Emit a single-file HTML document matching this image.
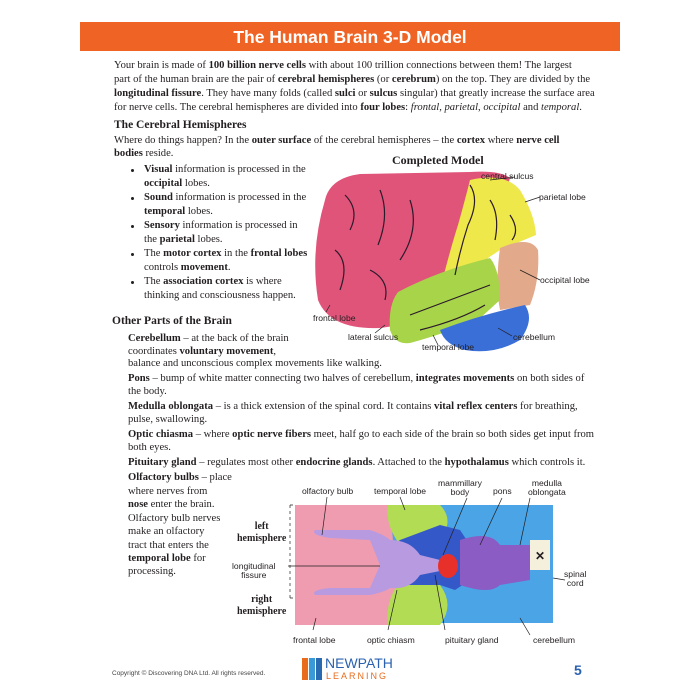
<!DOCTYPE html>
<html><head><meta charset="utf-8"><style>
body{margin:0;width:700px;height:700px;background:#fff;position:relative;overflow:hidden;font-family:"Liberation Serif",serif;color:#231f20}
.l{position:absolute;white-space:nowrap;font-size:10.6px;line-height:13px}
.h{font-size:11.5px;font-weight:bold}
.lb{position:absolute;white-space:nowrap;font-family:"Liberation Sans",sans-serif;font-size:8.6px;line-height:9px;color:#231f20}
b{font-weight:bold}
.d{position:absolute;width:3px;height:3px;background:#231f20;border-radius:50%}
</style></head><body>
<div style="position:absolute;left:80px;top:22px;width:540px;height:29px;background:#ef6424"></div>
<div style="position:absolute;left:80px;top:25px;width:540px;text-align:center;color:#fff;font-family:'Liberation Sans',sans-serif;font-weight:bold;font-size:17.5px;line-height:24px">The Human Brain 3-D Model</div>

<div class="l" style="left:114px;top:59px">Your brain is made of <b>100 billion nerve cells</b> with about 100 trillion connections between them! The largest</div>
<div class="l" style="left:114px;top:73px">part of the human brain are the pair of <b>cerebral hemispheres</b> (or <b>cerebrum</b>) on the top. They are divided by the</div>
<div class="l" style="left:114px;top:87px"><b>longitudinal fissure</b>. They have many folds (called <b>sulci</b> or <b>sulcus</b> singular) that greatly increase the surface area</div>
<div class="l" style="left:114px;top:101px">for nerve cells. The cerebral hemispheres are divided into <b>four lobes</b>: <i>frontal</i>, <i>parietal</i>, <i>occipital</i> and <i>temporal</i>.</div>
<div class="l h" style="left:114px;top:119px">The Cerebral Hemispheres</div>
<div class="l" style="left:114px;top:134px">Where do things happen? In the <b>outer surface</b> of the cerebral hemispheres – the <b>cortex</b> where <b>nerve cell</b></div>
<div class="l" style="left:114px;top:147px"><b>bodies</b> reside.</div>

<div class="d" style="left:131px;top:169px"></div>
<div class="l" style="left:144px;top:163px"><b>Visual</b> information is processed in the</div>
<div class="l" style="left:144px;top:177px"><b>occipital</b> lobes.</div>
<div class="d" style="left:131px;top:197px"></div>
<div class="l" style="left:144px;top:191px"><b>Sound</b> information is processed in the</div>
<div class="l" style="left:144px;top:205px"><b>temporal</b> lobes.</div>
<div class="d" style="left:131px;top:225px"></div>
<div class="l" style="left:144px;top:219px"><b>Sensory</b> information is processed in</div>
<div class="l" style="left:144px;top:233px">the <b>parietal</b> lobes.</div>
<div class="d" style="left:131px;top:253px"></div>
<div class="l" style="left:144px;top:247px">The <b>motor cortex</b> in the <b>frontal lobes</b></div>
<div class="l" style="left:144px;top:261px">controls <b>movement</b>.</div>
<div class="d" style="left:131px;top:281px"></div>
<div class="l" style="left:144px;top:275px">The <b>association cortex</b> is where</div>
<div class="l" style="left:144px;top:289px">thinking and consciousness happen.</div>

<div class="l h" style="left:112px;top:315px">Other Parts of the Brain</div>
<div class="l" style="left:128px;top:332px"><b>Cerebellum</b> – at the back of the brain</div>
<div class="l" style="left:128px;top:345px">coordinates <b>voluntary movement</b>,</div>
<div class="l" style="left:128px;top:357px">balance and unconscious complex movements like walking.</div>
<div class="l" style="left:128px;top:372px"><b>Pons</b> – bump of white matter connecting two halves of cerebellum, <b>integrates movements</b> on both sides of</div>
<div class="l" style="left:128px;top:385px">the body.</div>
<div class="l" style="left:128px;top:400px"><b>Medulla oblongata</b> – is a thick extension of the spinal cord. It contains <b>vital reflex centers</b> for breathing,</div>
<div class="l" style="left:128px;top:413px">pulse, swallowing.</div>
<div class="l" style="left:128px;top:428px"><b>Optic chiasma</b> – where <b>optic nerve fibers</b> meet, half go to each side of the brain so both sides get input from</div>
<div class="l" style="left:128px;top:441px">both eyes.</div>
<div class="l" style="left:128px;top:456px"><b>Pituitary gland</b> – regulates most other <b>endocrine glands</b>. Attached to the <b>hypothalamus</b> which controls it.</div>
<div class="l" style="left:128px;top:471px"><b>Olfactory bulbs</b> – place</div>
<div class="l" style="left:128px;top:485px">where nerves from</div>
<div class="l" style="left:128px;top:498px"><b>nose</b> enter the brain.</div>
<div class="l" style="left:128px;top:512px">Olfactory bulb nerves</div>
<div class="l" style="left:128px;top:525px">make an olfactory</div>
<div class="l" style="left:128px;top:539px">tract that enters the</div>
<div class="l" style="left:128px;top:552px"><b>temporal lobe</b> for</div>
<div class="l" style="left:128px;top:565px">processing.</div>

<div class="l" style="left:392px;top:154px;font-weight:bold;font-size:12px">Completed Model</div>

<svg style="position:absolute;left:0;top:0" width="700" height="700">
 <path d="M325 200 Q330 178 360 174 L470 172 Q500 170 510 178 L470 320 Q420 322 380 328 Q330 330 318 300 Q310 250 325 200Z" fill="#e0547a"/>
 <path d="M470 180 Q505 172 520 190 Q535 215 536 235 L500 250 L485 260 L455 282 L440 290 Q450 250 458 225 Q465 200 470 180Z" fill="#eee84a"/>
 <path d="M500 248 Q530 235 538 250 Q540 280 530 305 L500 310 Q495 285 500 248Z" fill="#e2a98a"/>
 <path d="M398 292 Q440 270 490 258 Q500 270 500 300 L478 320 Q440 335 410 343 Q395 345 390 330 Q388 305 398 292Z" fill="#a8d44a"/>
 <path d="M440 330 Q480 315 525 305 Q535 320 520 340 Q495 355 465 350 Q445 345 440 330Z" fill="#3b6fd8"/>
 <g stroke="#2a1a2a" stroke-width="1.2" fill="none">
  <path d="M470 185 Q480 200 468 225 Q460 250 455 275"/>
  <path d="M345 195 Q360 210 350 230 M380 190 Q390 215 378 245 M410 200 Q420 230 400 260 M335 250 Q350 262 340 290 M370 270 Q390 280 385 300 M490 200 Q500 215 495 240 M510 215 Q520 230 512 240 M410 315 Q450 300 490 285 M420 330 Q460 320 485 305"/>
 </g>
 <g stroke="#231f20" stroke-width="0.7" fill="none">
  <path d="M490 180 L515 177 M525 202 L540 197 M520 270 L540 280 M498 328 L512 336 M330 305 L326 312 M385 325 L375 333 M433 335 L438 345"/>
 </g>
 <rect x="295" y="505" width="258" height="118" fill="#4aa4e6"/>
 <path d="M295 505 L390 505 L400 625 L295 625Z" fill="#ef9cb0"/>
 <path d="M388 505 L440 505 Q455 520 440 540 L400 545 Q385 525 388 505Z" fill="#b2dc54"/>
 <path d="M388 625 L440 625 Q455 605 440 585 L400 582 Q385 600 388 625Z" fill="#b2dc54"/>
 <path d="M440 525 L460 530 L470 545 L470 580 L455 590 L440 585 L400 585 L380 565 L380 555 L400 540Z" fill="#3558c8"/>
 <path d="M315 530 L370 530 Q385 535 390 540 Q410 540 420 555 L440 560 L445 570 L420 575 Q410 590 390 588 Q385 592 370 595 L315 595 Q310 590 330 588 L370 588 L380 565 L370 540 L330 538 Q310 535 315 530Z" fill="#b89ae0"/>
 <path d="M460 540 Q490 530 500 545 L530 545 L530 580 L500 585 Q490 595 460 585Z" fill="#8a5cc4"/>
 <ellipse cx="448" cy="566" rx="10" ry="12" fill="#e8302a"/>
 <rect x="530" y="540" width="20" height="30" fill="#f5f0dc"/>
 <text x="535" y="560" font-size="12" font-family="Liberation Sans" font-weight="bold" fill="#231f20">✕</text>
 <g stroke="#231f20" stroke-width="0.7" fill="none">
  <path d="M290 505 L290 598 M290 505 L295 505 M290 598 L296 598" stroke-dasharray="3,3"/>
  <path d="M288 566 L380 566"/>
  <path d="M327 497 L322 535 M400 497 L405 510 M467 498 L443 555 M502 498 L480 545 M530 498 L520 545 M553 578 L565 580 M520 618 L530 635 M388 630 L397 590 M445 630 L435 575 M313 630 L316 618"/>
 </g>
</svg>

<div class="lb" style="left:481px;top:172px">central sulcus</div>
<div class="lb" style="left:539px;top:193px">parietal lobe</div>
<div class="lb" style="left:540px;top:276px">occipital lobe</div>
<div class="lb" style="left:313px;top:314px">frontal lobe</div>
<div class="lb" style="left:348px;top:333px">lateral sulcus</div>
<div class="lb" style="left:513px;top:333px">cerebellum</div>
<div class="lb" style="left:422px;top:343px">temporal lobe</div>

<div class="lb" style="left:302px;top:487px">olfactory bulb</div>
<div class="lb" style="left:374px;top:487px">temporal lobe</div>
<div class="lb" style="left:438px;top:479px;text-align:center">mammillary<br>body</div>
<div class="lb" style="left:493px;top:487px">pons</div>
<div class="lb" style="left:528px;top:479px;text-align:center">medulla<br>oblongata</div>
<div class="lb" style="left:237px;top:521px;font-family:'Liberation Serif',serif;font-weight:bold;font-size:10px;line-height:12px;text-align:center">left<br>hemisphere</div>
<div class="lb" style="left:232px;top:562px;text-align:center">longitudinal<br>fissure</div>
<div class="lb" style="left:237px;top:594px;font-family:'Liberation Serif',serif;font-weight:bold;font-size:10px;line-height:12px;text-align:center">right<br>hemisphere</div>
<div class="lb" style="left:564px;top:570px;text-align:center">spinal<br>cord</div>
<div class="lb" style="left:293px;top:636px">frontal lobe</div>
<div class="lb" style="left:367px;top:636px">optic chiasm</div>
<div class="lb" style="left:445px;top:636px">pituitary gland</div>
<div class="lb" style="left:533px;top:636px">cerebellum</div>

<div style="position:absolute;left:112px;top:670px;font-family:'Liberation Sans',sans-serif;font-size:6.5px;color:#444">Copyright © Discovering DNA Ltd. All rights reserved.</div>
<div style="position:absolute;left:302px;top:658px;width:6px;height:22px;background:#e86c1c"></div>
<div style="position:absolute;left:309px;top:658px;width:6px;height:22px;background:#3a9ad8"></div>
<div style="position:absolute;left:316px;top:658px;width:6px;height:22px;background:#2a6ab0"></div>
<div style="position:absolute;left:325px;top:656px;font-family:'Liberation Sans',sans-serif;font-size:14px;color:#2a62b0;line-height:15px">NEWPATH</div>
<div style="position:absolute;left:326px;top:671px;font-family:'Liberation Sans',sans-serif;font-size:9px;letter-spacing:2px;color:#e86c1c;line-height:10px">LEARNING</div>
<div style="position:absolute;left:574px;top:662px;font-family:'Liberation Sans',sans-serif;font-weight:bold;font-size:14px;color:#2a62b0">5</div>
</body></html>
